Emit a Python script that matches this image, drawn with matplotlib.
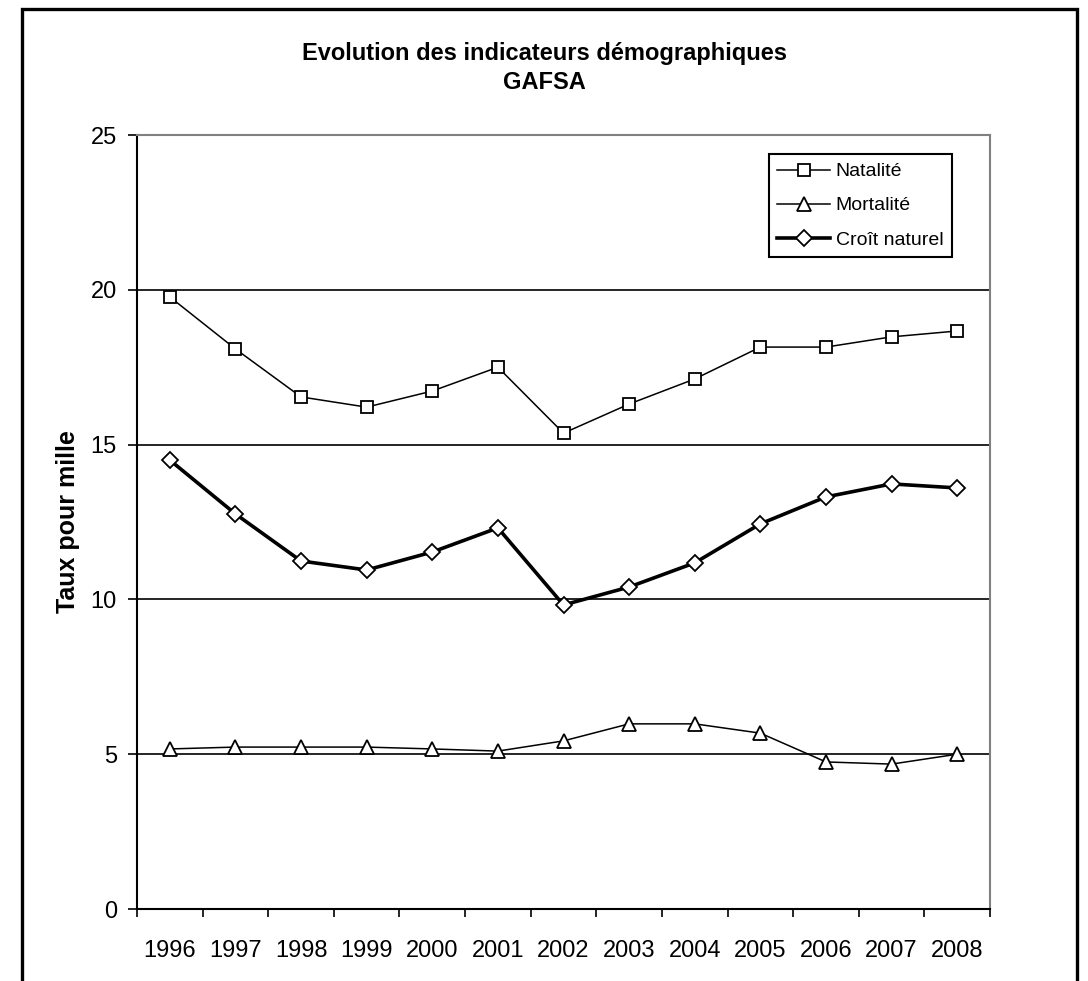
import matplotlib
matplotlib.use("Agg")
import matplotlib.pyplot as plt
from matplotlib.patches import Rectangle
import numpy as np

years = ["1996", "1997", "1998", "1999", "2000", "2001", "2002",
         "2003", "2004", "2005", "2006", "2007", "2008"]
natalite = [19.77, 18.09, 16.54, 16.21, 16.73, 17.5, 15.37,
            16.31, 17.12, 18.15, 18.15, 18.48, 18.67]
mortalite = [5.17, 5.23, 5.23, 5.23, 5.17, 5.1, 5.43,
             5.98, 5.98, 5.68, 4.75, 4.68, 5.0]
croit = [14.5, 12.76, 11.24, 10.95, 11.53, 12.31, 9.82,
         10.4, 11.18, 12.44, 13.31, 13.73, 13.6]
yticks = [0, 5, 10, 15, 20, 25]

plt.rcParams['font.family'] = ['Liberation Sans', 'DejaVu Sans']

fig = plt.figure(figsize=(10.88, 9.81), dpi=100)
fig.patches.append(Rectangle((22/1088, -0.05), (1077-22)/1088, 1.05 - 9/981,
                             transform=fig.transFigure, fill=False,
                             edgecolor='black', linewidth=2.4))

ax = fig.add_axes([137/1088, 1 - 909/981, (990-137)/1088, (909-135)/981])
x = np.arange(len(years))

ax.plot(x, natalite, color='black', lw=1.1, marker='s', ms=9,
        mfc='white', mec='black', mew=1.3, label='Natalité', zorder=3)
ax.plot(x, mortalite, color='black', lw=1.1, marker='^', ms=9.5,
        mfc='white', mec='black', mew=1.3, label='Mortalité', zorder=3)
ax.plot(x, croit, color='black', lw=2.6, marker='D', ms=8,
        mfc='white', mec='black', mew=1.3, label='Croît naturel', zorder=3)

ax.set_xlim(-0.5, len(years) - 0.5)
ax.set_ylim(0, 25)
ax.set_yticks(yticks)
ax.yaxis.grid(True, color='black', lw=1.2)
ax.set_axisbelow(True)
ax.tick_params(axis='y', direction='out', length=6.5, width=1.2, labelsize=17, pad=8)

ax.set_xticks(x)
ax.set_xticklabels(years)
ax.set_xticks(np.arange(-0.5, len(years), 1), minor=True)
ax.tick_params(axis='x', which='major', length=0, labelsize=17, pad=22)
ax.tick_params(axis='x', which='minor', direction='out', length=6, width=1.2)

for s in ['top', 'right']:
    ax.spines[s].set_color('#808080')
    ax.spines[s].set_linewidth(1.5)
for s in ['left', 'bottom']:
    ax.spines[s].set_color('black')
    ax.spines[s].set_linewidth(1.5)

ax.set_ylabel('Taux pour mille', fontsize=18, fontweight='bold', labelpad=8)

fig.text(0.5, 1 - 68/981, 'Evolution des indicateurs démographiques\nGAFSA',
         ha='center', va='center', fontsize=17, fontweight='bold',
         linespacing=1.35)

leg = ax.legend(loc='upper right', bbox_to_anchor=((952-137)/(990-137), 1 - (154-135)/(909-135)),
                fontsize=14, frameon=True, fancybox=False, edgecolor='black',
                framealpha=1, handlelength=2.7, handletextpad=0.3,
                borderpad=0.45, labelspacing=0.85, borderaxespad=0)
leg.get_frame().set_linewidth(1.5)

fig.savefig('out.png', dpi=100)
